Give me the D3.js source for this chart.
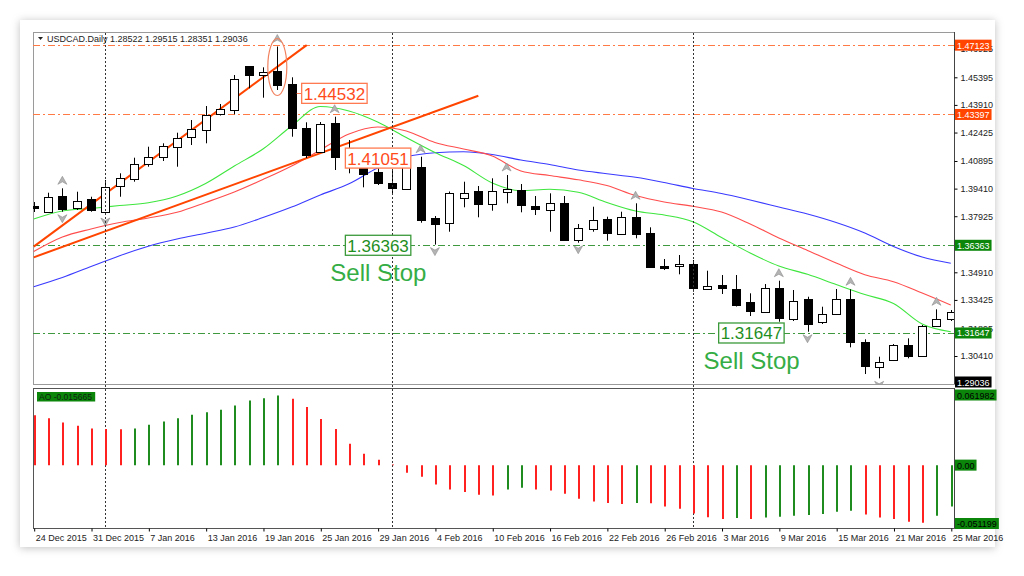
<!DOCTYPE html>
<html>
<head>
<meta charset="utf-8">
<script src="https://cdn.jsdelivr.net/npm/d3@7.9.0/dist/d3.min.js"></script>
<style>
  body { margin: 0; background: #fff; }
  svg { display: block; font-family: "Liberation Sans", Arial, sans-serif; }
</style>
</head>
<body>
<svg id="chart" width="1024" height="576"></svg>
<script>
// USDCAD daily bars, 24 Dec 2015 .. 25 Mar 2016 (one value per bar)
const opens = [1.38474,1.38168,1.39028,1.38383,1.38851,1.38114,1.39512,1.39926,1.40717,1.41109,
  1.41631,1.42147,1.42561,1.43405,1.43636,1.46002,1.45518,1.45733,1.45034,1.42685,
  1.41394,1.42921,1.41593,1.40600,1.40286,1.39695,1.39426,1.40555,1.37813,1.37544,
  1.38942,1.39281,1.38582,1.39243,1.39362,1.38491,1.38297,1.38620,1.36646,1.37238,
  1.37759,1.37006,1.37899,1.37039,1.35264,1.35211,1.35356,1.34038,1.34210,1.33995,
  1.33296,1.32775,1.34081,1.32415,1.33458,1.32253,1.32667,1.33490,1.31146,1.29834,
  1.30194,1.31000,1.30409,1.32022,1.32382];
const highs = [1.38689,1.39190,1.39426,1.39243,1.38974,1.39872,1.40233,1.41072,1.41663,1.41846,
  1.42416,1.43099,1.43851,1.43959,1.45518,1.46002,1.45932,1.47050,1.45395,1.42975,
  1.42991,1.43276,1.42023,1.41163,1.40502,1.40410,1.41217,1.41125,1.37937,1.39254,
  1.39781,1.39550,1.39964,1.40141,1.39657,1.39012,1.39157,1.39012,1.37507,1.38437,
  1.37899,1.38168,1.38620,1.37329,1.35625,1.35840,1.35571,1.34996,1.34764,1.34764,
  1.33780,1.34280,1.34458,1.33958,1.33597,1.33060,1.34012,1.33995,1.31307,1.30371,
  1.31054,1.31360,1.32076,1.32920,1.32882];
const lows = [1.38152,1.38098,1.38168,1.38259,1.38168,1.37990,1.38974,1.39781,1.40588,1.40894,
  1.40588,1.41754,1.41846,1.43341,1.43405,1.44803,1.44298,1.44712,1.42201,1.41055,
  1.41324,1.40410,1.40233,1.39480,1.39604,1.39066,1.39372,1.37576,1.36400,1.37093,
  1.38405,1.37867,1.38222,1.38620,1.38136,1.37990,1.37093,1.36619,1.36501,1.37093,
  1.36609,1.36915,1.36738,1.35178,1.35033,1.34802,1.33866,1.33995,1.33743,1.33071,
  1.32560,1.32748,1.32253,1.32291,1.31715,1.32130,1.32613,1.30877,1.29441,1.29210,
  1.30140,1.30285,1.30409,1.32022,1.32291];
const closes = [1.38367,1.38974,1.38351,1.38759,1.38259,1.39480,1.39964,1.40717,1.41109,1.41717,
  1.42115,1.42599,1.43367,1.43690,1.45303,1.45518,1.45696,1.44981,1.42652,1.41254,
  1.42900,1.41093,1.40625,1.40195,1.39695,1.39426,1.41125,1.37722,1.37507,1.39157,
  1.39190,1.38582,1.39281,1.39405,1.38582,1.38313,1.38652,1.36646,1.37275,1.37722,
  1.37006,1.37899,1.36969,1.35211,1.35157,1.35339,1.34049,1.34200,1.34065,1.33114,
  1.32791,1.34065,1.32468,1.33382,1.32130,1.32667,1.33490,1.31178,1.29834,1.30102,
  1.31000,1.30409,1.32022,1.32398,1.32775];

// Awesome Oscillator histogram
const aoValues = [0.0440,0.0413,0.0375,0.0346,0.0322,0.0317,0.0315,0.0322,0.0355,0.0384,
  0.0413,0.0443,0.0466,0.0487,0.0525,0.0569,0.0589,0.0613,0.0584,0.0511,
  0.0405,0.0317,0.0188,0.0100,0.0047,0.0006,-0.0067,-0.0103,-0.0170,-0.0214,
  -0.0237,-0.0260,-0.0268,-0.0214,-0.0200,-0.0214,-0.0223,-0.0252,-0.0296,-0.0320,
  -0.0334,-0.0343,-0.0334,-0.0336,-0.0364,-0.0384,-0.0425,-0.0458,-0.0475,-0.0466,
  -0.0475,-0.0461,-0.0455,-0.0446,-0.0440,-0.0431,-0.0411,-0.0402,-0.0434,-0.0461,
  -0.0475,-0.0499,-0.0507,-0.0446,-0.0364];

// moving averages, read every second bar
const maIndex = [0,2,4,6,8,10,12,14,16,18,20,22,24,26,28,30,32,34,36,38,40,42,44,46,48,50,52,54,56,58,60,62,64];
const maFast = [1.37775,1.38206,1.38340,1.38501,1.38646,1.39012,1.39684,1.40625,1.41539,1.42776,1.43824,
  1.43583,1.42991,1.42158,1.41351,1.40652,1.39711,1.39297,1.39372,1.39211,1.38663,1.38206,
  1.37990,1.37630,1.36781,1.35947,1.35248,1.34802,1.34253,1.33716,1.33232,1.32130,1.31715];
const maMid = [1.36028,1.36808,1.37238,1.37587,1.37829,1.38136,1.38663,1.39227,1.39899,1.40625,1.41485,
  1.42346,1.42722,1.42507,1.41889,1.41539,1.41163,1.40356,1.40114,1.39883,1.39577,1.39039,
  1.38689,1.38458,1.38152,1.37507,1.36754,1.36082,1.35409,1.34781,1.34405,1.33796,1.33151];
const maSlow = [1.34135,1.34630,1.35221,1.35802,1.36313,1.36700,1.37012,1.37345,1.37856,1.38421,1.39066,
  1.39668,1.40518,1.41109,1.41335,1.41389,1.41244,1.40948,1.40706,1.40410,1.40211,1.40018,
  1.39738,1.39415,1.39147,1.38797,1.38421,1.38044,1.37587,1.37023,1.36297,1.35732,1.35393];

const fractalUp = [2,17,21,27,33,42,52,57,63];
const fractalDown = [2,5,28,38,54,59];
const monthStarts = [5,25,46];

const dateIndex = [0,4,8,12,16,20,24,28,32,36,40,44,48,52,56,60,64];
const dateLabels = ['24 Dec 2015','31 Dec 2015','7 Jan 2016','13 Jan 2016','19 Jan 2016','25 Jan 2016',
  '29 Jan 2016','4 Feb 2016','10 Feb 2016','16 Feb 2016','22 Feb 2016','26 Feb 2016','3 Mar 2016',
  '9 Mar 2016','15 Mar 2016','21 Mar 2016','25 Mar 2016'];
const priceTicks = [1.46925,1.45395,1.43910,1.42425,1.40895,1.39410,1.37925,1.34910,1.33425,1.31895,1.30410];

const redLevels = [1.47123,1.43397];
const greenLevels = [1.36363,1.31647];
const trendStart = [[0,1.36290],[0,1.35716]];
const trendEnd = [[19.05,1.47123],[31.03,1.44405]];
const redNotes = [['1.44532',18.7],['1.41051',21.75]];
const greenNotes = [['1.36363',21.75],['1.31647',47.8]];

const svg = d3.select('#chart');
const PL = 33, PR = 954, MT = 32, MB = 384, AT = 388, AB = 528;

const x = d3.scaleLinear().domain([0, 64]).range([33.7, 950.8]);
const y = d3.scaleLinear().domain([1.30410, 1.45395]).range([356, 77.3]);
const yAO = d3.scaleLinear().domain([-0.051199, 0.061982]).range([523.3, 394.7]);
const px = (v) => Math.round(v) + 0.5;

// defs: card shadow and panel clips
const defs = svg.append('defs');
const f = defs.append('filter').attr('id', 'shadow').attr('x', -0.05).attr('y', -0.05).attr('width', 1.1).attr('height', 1.1);
f.append('feDropShadow').attr('dx', 0).attr('dy', 1).attr('stdDeviation', 4).attr('flood-color', '#000').attr('flood-opacity', 0.25);
defs.append('clipPath').attr('id', 'clipMain').append('rect')
  .attr('x', PL).attr('y', MT).attr('width', PR - PL).attr('height', MB - MT);
defs.append('clipPath').attr('id', 'clipAO').append('rect')
  .attr('x', PL).attr('y', AT).attr('width', PR - PL).attr('height', AB - AT);

svg.append('rect').attr('x', 20).attr('y', 20).attr('width', 975).attr('height', 527)
  .attr('fill', '#fff').attr('filter', 'url(#shadow)');

// panel frames
svg.append('rect').attr('x', PL + 0.5).attr('y', MT + 0.5).attr('width', PR - PL).attr('height', MB - MT)
  .attr('fill', '#fff').attr('stroke', '#9a9a9a');
svg.append('rect').attr('x', PL + 0.5).attr('y', AT + 0.5).attr('width', PR - PL).attr('height', AB - AT)
  .attr('fill', '#fff').attr('stroke', '#555');

const main = svg.append('g').attr('clip-path', 'url(#clipMain)');

// horizontal order levels
main.selectAll('.lvlR').data(redLevels).enter().append('line')
  .attr('x1', PL).attr('x2', PR).attr('y1', d => px(y(d))).attr('y2', d => px(y(d)))
  .attr('stroke', '#ff7a45').attr('stroke-dasharray', '7,3,2,3');
main.selectAll('.lvlG').data(greenLevels).enter().append('line')
  .attr('x1', PL).attr('x2', PR).attr('y1', d => px(y(d))).attr('y2', d => px(y(d)))
  .attr('stroke', '#3f9a3f').attr('stroke-dasharray', '7,3,2,3');

// month separators in both panels
svg.selectAll('.sep').data(monthStarts).enter().append('line')
  .attr('x1', d => px(x(d))).attr('x2', d => px(x(d))).attr('y1', MT + 1).attr('y2', AB)
  .attr('stroke', '#333').attr('stroke-dasharray', '2,2');

// moving averages
const maLine = d3.line().x(d => x(d[0])).y(d => y(d[1])).curve(d3.curveMonotoneX);
[[maSlow, '#3a3aff'], [maMid, '#ff4d4d'], [maFast, '#3ee63e']].forEach(([vals, col]) => {
  main.append('path').datum(d3.zip(maIndex, vals)).attr('d', maLine)
    .attr('fill', 'none').attr('stroke', col).attr('stroke-width', 1.1);
});

// trend lines
main.selectAll('.trend').data(d3.zip(trendStart, trendEnd)).enter().append('line')
  .attr('x1', d => x(d[0][0])).attr('y1', d => y(d[0][1]))
  .attr('x2', d => x(d[1][0])).attr('y2', d => y(d[1][1]))
  .attr('stroke', '#ff4500').attr('stroke-width', 2);

// candles
const bars = opens.map((o, i) => ({ i, o, h: highs[i], l: lows[i], c: closes[i] }));
const candle = main.selectAll('.candle').data(bars).enter().append('g');
candle.append('line')
  .attr('x1', d => px(x(d.i))).attr('x2', d => px(x(d.i)))
  .attr('y1', d => y(d.h)).attr('y2', d => y(d.l))
  .attr('stroke', '#000');
candle.append('rect')
  .attr('x', d => Math.round(x(d.i)) - 4 + 0.5)
  .attr('y', d => Math.round(y(Math.max(d.o, d.c))) + 0.5)
  .attr('width', 8)
  .attr('height', d => Math.max(1, Math.round(Math.abs(y(d.o) - y(d.c)))))
  .attr('fill', d => d.c >= d.o ? '#fff' : '#000')
  .attr('stroke', '#000');

// fractal arrows
main.selectAll('.fup').data(fractalUp).enter().append('path')
  .attr('transform', d => `translate(${x(d)},${y(highs[d]) - 8})`)
  .attr('d', 'M0,-4L4.5,4L0,1.5L-4.5,4Z')
  .attr('fill', '#b4b4b4').attr('stroke', '#8c8c8c').attr('stroke-width', 0.6);
main.selectAll('.fdn').data(fractalDown).enter().append('path')
  .attr('transform', d => `translate(${x(d)},${y(lows[d]) + 7})`)
  .attr('d', 'M0,4L4.5,-4L0,-1.5L-4.5,-4Z')
  .attr('fill', '#b4b4b4').attr('stroke', '#8c8c8c').attr('stroke-width', 0.6);

// ellipse round the top bar
main.append('ellipse').attr('cx', x(17)).attr('cy', y(1.45950)).attr('rx', 9.5).attr('ry', 28.5)
  .attr('fill', 'none').attr('stroke', '#f2825f').attr('stroke-width', 1.2);

// price notes in boxes
function note(text, at, price, col, border) {
  const g = svg.append('g');
  const t = g.append('text').attr('x', x(at) + 2).attr('y', y(price) + 6.5)
    .attr('font-size', 17).attr('fill', col).text(text);
  const b = t.node().getBBox();
  g.insert('rect', 'text').attr('x', x(at)).attr('y', y(price) - 10)
    .attr('width', b.width + 4).attr('height', 20)
    .attr('fill', '#fff').attr('stroke', border).attr('stroke-width', 1.3);
}
redNotes.forEach(([t, at]) => note(t, at, +t, '#ff4b1a', '#ff7a50'));
greenNotes.forEach(([t, at]) => note(t, at, +t, '#1f8f1f', '#3a9a3a'));
svg.append('line').attr('x1', x(18.7) - 5).attr('x2', x(18.7)).attr('y1', px(y(1.44532))).attr('y2', px(y(1.44532)))
  .attr('stroke', '#ff7a50');
greenNotes.forEach(([t, at]) => {
  svg.append('text').attr('x', x(at - 1.05)).attr('y', y(+t) + 36)
    .attr('font-size', 24).attr('fill', '#35ad45').text('Sell Stop');
});

// header
svg.append('path').attr('d', 'M38,37L43,37L40.5,40Z').attr('fill', '#222');
svg.append('text').attr('x', 47).attr('y', 42).attr('font-size', 9).attr('fill', '#222')
  .text('USDCAD.Daily');
svg.append('text').attr('x', 110).attr('y', 42).attr('font-size', 9).attr('fill', '#222')
  .text('1.28522 1.29515 1.28351 1.29036');

// AO histogram
svg.append('g').attr('clip-path', 'url(#clipAO)')
  .selectAll('line').data(aoValues).enter().append('line')
  .attr('x1', (d, i) => Math.round(x(i)) + 1).attr('x2', (d, i) => Math.round(x(i)) + 1)
  .attr('y1', yAO(0)).attr('y2', d => yAO(d))
  .attr('stroke', (d, i) => (i > 0 && d > aoValues[i - 1]) ? '#1e8c1e' : '#ff2020')
  .attr('stroke-width', 2);

// axes
const yAxis = d3.axisRight(y).tickValues(priceTicks).tickFormat(d3.format('.5f')).tickSize(3).tickPadding(3);
const ga = svg.append('g').attr('transform', `translate(${PR + 0.5},0)`).call(yAxis);
ga.select('.domain').attr('stroke', '#444').attr('d', `M0,${MT}V${MB}`);
ga.selectAll('text').attr('font-size', 9).attr('fill', '#222').attr('font-family', '"Liberation Sans", Arial');

const xAxis = d3.axisBottom(x).tickValues(dateIndex).tickFormat((d, i) => dateLabels[i]).tickSize(3).tickPadding(3);
const gx = svg.append('g').attr('transform', `translate(0.5,${AB + 0.5})`).call(xAxis);
gx.select('.domain').remove();
gx.selectAll('text').attr('text-anchor', 'start').attr('dx', 1).attr('font-size', 9).attr('fill', '#222')
  .attr('font-family', '"Liberation Sans", Arial');
svg.append('line').attr('x1', PR + 0.5).attr('x2', PR + 0.5).attr('y1', AT).attr('y2', AB).attr('stroke', '#444');

// price tags on the right scale
function tag(text, yy, fill, col) {
  const g = svg.append('g');
  const t = g.append('text').attr('x', PR + 3).attr('y', yy + 3.5).attr('font-size', 9).attr('fill', col).text(text);
  const b = t.node().getBBox();
  g.insert('rect', 'text').attr('x', PR + 1).attr('y', yy - 5.5).attr('width', b.width + 4).attr('height', 11).attr('fill', fill);
}
redLevels.forEach(v => tag(v.toFixed(5), y(v), '#ff4500', '#fff'));
greenLevels.forEach(v => tag(v.toFixed(5), y(v), '#0b860b', '#fff'));
tag('1.29036', 382, '#000', '#fff');
tag('0.061982', 395, '#0b860b', '#000');
tag('0.00', yAO(0), '#0b860b', '#000');
tag('-0.051199', 523.5, '#0b860b', '#000');

// AO caption
const ao = svg.append('g');
const aoText = ao.append('text').attr('x', 39).attr('y', 399.5).attr('font-size', 8.5).attr('fill', '#102010').text('AO -0.015665');
const aoBox = aoText.node().getBBox();
ao.insert('rect', 'text').attr('x', 37).attr('y', 392).attr('width', aoBox.width + 5).attr('height', 9.5).attr('fill', '#0b860b');
</script>
</body>
</html>
